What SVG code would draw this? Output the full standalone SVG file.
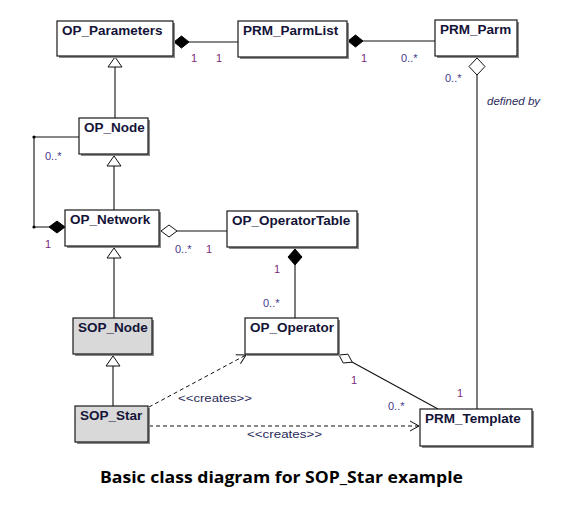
<svg xmlns="http://www.w3.org/2000/svg" width="579" height="506" viewBox="0 0 579 506">
<style>
.sh{fill:#8a8a8a}
.box{fill:#fff;stroke:#1a1a1a;stroke-width:1.2}
.gbox{fill:#d9d9d9;stroke:#1a1a1a;stroke-width:1.2}
.nm{font-family:"Liberation Sans",Arial,sans-serif;font-size:13.5px;font-weight:bold;fill:#141438}
.ln{fill:none;stroke:#111;stroke-width:1.1}
.dash{fill:none;stroke:#111;stroke-width:1;stroke-dasharray:4,3}
.fd{fill:#000;stroke:#000;stroke-width:1}
.hd{fill:#fff;stroke:#111;stroke-width:1}
.one{font-family:"Liberation Sans",Arial,sans-serif;font-size:11px;fill:#7a2a7a}
.many{font-family:"Liberation Sans",Arial,sans-serif;font-size:11px;fill:#44388a}
.lbl{font-family:"Liberation Sans",Arial,sans-serif;font-size:11.5px;fill:#2a2a5a}
.cap{font-family:"Open Sans","Noto Sans",sans-serif;font-size:15.5px;font-weight:bold;fill:#000}
</style>
<defs>
<marker id="open" markerWidth="12" markerHeight="12" refX="10" refY="6" orient="auto" markerUnits="userSpaceOnUse">
<path d="M1,1 L10,6 L1,11" fill="none" stroke="#111" stroke-width="1"/>
</marker>
</defs>
<rect width="579" height="506" fill="#fff"/>

<g id="connectors">
<line class="ln" x1="189" y1="42" x2="238" y2="42"/>
<polygon class="fd" points="174,42 181.5,36 189,42 181.5,48"/>
<line class="ln" x1="363" y1="41" x2="435" y2="41"/>
<polygon class="fd" points="348,41 355.5,35 363,41 355.5,47"/>
<line class="ln" x1="477" y1="75" x2="477" y2="409"/>
<polygon class="hd" points="477,58 485,66.5 477,75 469,66.5"/>
<line class="ln" x1="115" y1="67" x2="115" y2="118"/>
<polygon class="hd" points="115,57 122,67 108,67"/>
<line class="ln" x1="114" y1="166" x2="114" y2="210"/>
<polygon class="hd" points="114,156 121,166 107,166"/>
<polyline class="ln" points="79,137 34,137 34,227 49,227"/>
<circle cx="34" cy="137" r="1.6" fill="#000"/>
<circle cx="34" cy="227" r="1.6" fill="#000"/>
<polygon class="fd" points="49,227 57,221 65,227 57,233"/>
<line class="ln" x1="177" y1="231" x2="227" y2="231"/>
<polygon class="hd" points="161,231 169,225 177,231 169,237"/>
<line class="ln" x1="295" y1="265" x2="295" y2="318"/>
<polygon class="fd" points="295,249 302,257 295,265 288,257"/>
<line class="ln" x1="114" y1="258" x2="114" y2="318"/>
<polygon class="hd" points="114,248 121,258 107,258"/>
<line class="ln" x1="113" y1="366" x2="113" y2="406"/>
<polygon class="hd" points="113,356 120,366 106,366"/>
<line class="dash" x1="149" y1="407" x2="246" y2="355" marker-end="url(#open)"/>
<line class="dash" x1="149" y1="426" x2="419" y2="426" marker-end="url(#open)"/>
<line class="ln" x1="352" y1="362" x2="438" y2="409"/>
<polygon class="hd" points="339,355 348,354.2 352.2,362.2 343.2,363"/>
</g>

<g id="labels">
<text class="one" x="191" y="62">1</text>
<text class="one" x="216" y="62">1</text>
<text class="one" x="361" y="62">1</text>
<text class="many" x="401" y="62">0..*</text>
<text class="many" x="445" y="82">0..*</text>
<text class="lbl" x="487" y="105" font-style="italic">defined by</text>
<text class="many" x="45" y="160">0..*</text>
<text class="one" x="45" y="248">1</text>
<text class="many" x="175" y="253">0..*</text>
<text class="one" x="206" y="253">1</text>
<text class="one" x="274" y="273">1</text>
<text class="many" x="263" y="307">0..*</text>
<text class="one" x="351" y="384">1</text>
<text class="many" x="388" y="410">0..*</text>
<text class="one" x="457" y="397">1</text>
<text class="lbl" x="178" y="402" textLength="74" lengthAdjust="spacingAndGlyphs">&lt;&lt;creates&gt;&gt;</text>
<text class="lbl" x="247" y="438" textLength="75" lengthAdjust="spacingAndGlyphs">&lt;&lt;creates&gt;&gt;</text>
</g>

<g id="OP_Parameters"><rect class="sh" x="59" y="23" width="116" height="35"/><rect class="box" x="57" y="21" width="116" height="35"/><text class="nm" x="62" y="35">OP_Parameters</text></g>
<g id="PRM_ParmList"><rect class="sh" x="240" y="23" width="109" height="36"/><rect class="box" x="238" y="21" width="109" height="36"/><text class="nm" x="243" y="35">PRM_ParmList</text></g>
<g id="PRM_Parm"><rect class="sh" x="437" y="22" width="82" height="36"/><rect class="box" x="435" y="20" width="82" height="36"/><text class="nm" x="440" y="34">PRM_Parm</text></g>
<g id="OP_Node"><rect class="sh" x="81" y="120" width="69" height="36"/><rect class="box" x="79" y="118" width="69" height="36"/><text class="nm" x="84" y="132">OP_Node</text></g>
<g id="OP_Network"><rect class="sh" x="67" y="212" width="94" height="36"/><rect class="box" x="65" y="210" width="94" height="36"/><text class="nm" x="70" y="224">OP_Network</text></g>
<g id="OP_OperatorTable"><rect class="sh" x="229" y="213" width="130" height="36"/><rect class="box" x="227" y="211" width="130" height="36"/><text class="nm" x="232" y="225">OP_OperatorTable</text></g>
<g id="SOP_Node"><rect class="sh" x="75" y="320" width="79" height="36"/><rect class="gbox" x="73" y="318" width="79" height="36"/><text class="nm" x="78" y="332">SOP_Node</text></g>
<g id="OP_Operator"><rect class="sh" x="247" y="320" width="93" height="36"/><rect class="box" x="245" y="318" width="93" height="36"/><text class="nm" x="250" y="332">OP_Operator</text></g>
<g id="SOP_Star"><rect class="sh" x="77" y="408" width="73" height="36"/><rect class="gbox" x="75" y="406" width="73" height="36"/><text class="nm" x="80" y="420">SOP_Star</text></g>
<g id="PRM_Template"><rect class="sh" x="422" y="411" width="112" height="37"/><rect class="box" x="420" y="409" width="112" height="37"/><text class="nm" x="425" y="423">PRM_Template</text></g>

<text class="cap" x="100" y="483" textLength="363" lengthAdjust="spacingAndGlyphs">Basic class diagram for SOP_Star example</text>
</svg>
